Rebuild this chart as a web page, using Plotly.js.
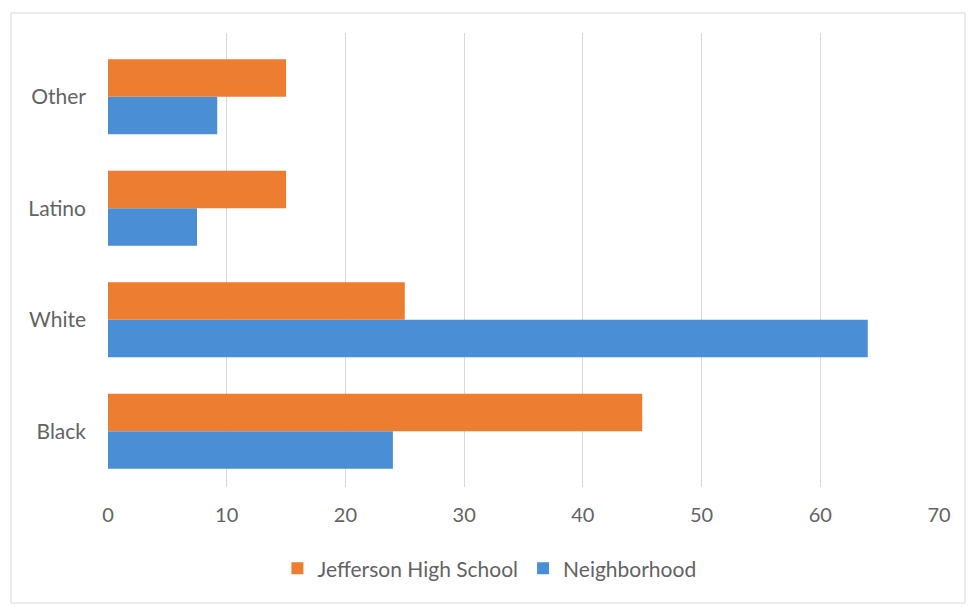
<!DOCTYPE html>
<html>
<head>
<meta charset="utf-8">
<script src="https://cdn.plot.ly/plotly-3.0.1.min.js"></script>
<style>html,body{margin:0;padding:0;background:#fff;}#chart{width:970px;height:607px;}</style>
</head>
<body>
<div id="chart"></div>
<script>
const categories = ["Black", "White", "Latino", "Other"];
const seriesNames = ["Jefferson High School", "Neighborhood"];
const jeffersonValues = [45, 25, 15, 15];
const neighborhoodValues = [24, 64, 7.5, 9.2];
const xTicks = [0, 10, 20, 30, 40, 50, 60, 70];

const traces = [
  {type: 'bar', orientation: 'h', name: seriesNames[1], y: categories, x: neighborhoodValues,
   marker: {color: '#4a8fd6'}, hoverinfo: 'x'},
  {type: 'bar', orientation: 'h', name: seriesNames[0], y: categories, x: jeffersonValues,
   marker: {color: '#ed7d31'}, hoverinfo: 'x'}
];

const W = 831, H = 454;
const layout = {
  width: 970, height: 607,
  margin: {l: 108, r: 31, t: 33, b: 120},
  paper_bgcolor: '#ffffff', plot_bgcolor: '#ffffff',
  font: {family: 'Lato, "Open Sans", sans-serif', size: 21, color: '#636363'},
  barmode: 'group', bargap: 0.326, bargroupgap: 0,
  showlegend: true,
  legend: {orientation: 'h', traceorder: 'reversed', x: 0.459, xanchor: 'center', y: -0.18, yanchor: 'middle',
           font: {size: 21, color: '#636363'}, itemwidth: 30},
  xaxis: {range: [0, 70], tickvals: xTicks, showgrid: true, gridcolor: '#d9d9d9', gridwidth: 1,
          zeroline: false, showline: false, ticks: '', ticklabelstandoff: 14,
          tickfont: {size: 20, color: '#636363'}, fixedrange: true},
  yaxis: {type: 'category', categoryorder: 'array', categoryarray: categories,
          range: [-0.5, 3.572], showgrid: false, zeroline: false, showline: false, ticks: '',
          ticklabelstandoff: 21, tickfont: {size: 21, color: '#636363'}, fixedrange: true},
  shapes: [{type: 'rect', xref: 'paper', yref: 'paper',
            x0: (11 - 108) / W, x1: (965 - 108) / W, y0: (487 - 603) / H, y1: (487 - 13) / H,
            line: {color: '#d9d9d9', width: 1}, fillcolor: 'rgba(0,0,0,0)', layer: 'below'}]
};
Plotly.newPlot('chart', traces, layout, {displayModeBar: false, staticPlot: true});
</script>
</body>
</html>
